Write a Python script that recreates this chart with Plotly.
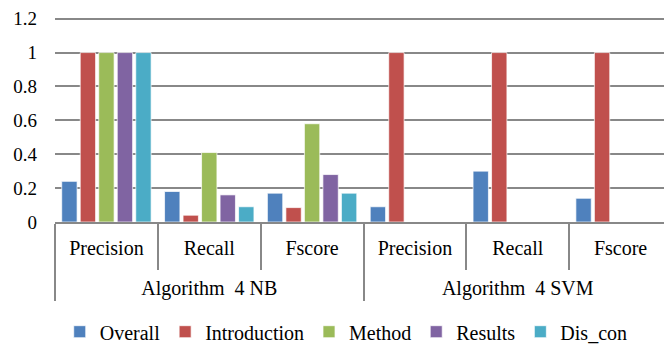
import plotly.graph_objects as go

groups = ["Algorithm  4 NB"] * 3 + ["Algorithm  4 SVM"] * 3
metrics = ["Precision", "Recall", "Fscore"] * 2

series = ["Overall", "Introduction", "Method", "Results", "Dis_con"]
overall = [0.24, 0.18, 0.17, 0.09, 0.30, 0.14]
introduction = [1.0, 0.04, 0.085, 1.0, 1.0, 1.0]
method = [1.0, 0.41, 0.58, 0, 0, 0]
results = [1.0, 0.16, 0.28, 0, 0, 0]
dis_con = [1.0, 0.09, 0.17, 0, 0, 0]
colors = ["#4F81BD", "#C0504D", "#9BBB59", "#8064A2", "#4BACC6"]
y_ticks = [0, 0.2, 0.4, 0.6, 0.8, 1.0, 1.2]
y_tick_labels = ["0", "0.2", "0.4", "0.6", "0.8", "1", "1.2"]

values = [overall, introduction, method, results, dis_con]

# display labels: a small trailing blank line pushes the outer label row down
metric_labels = [m + "<br><span style='font-size:4px'> </span>" for m in metrics]

fig = go.Figure()
for name, vals, col in zip(series, values, colors):
    fig.add_trace(go.Bar(
        x=[groups, metric_labels], y=vals, name=name,
        marker=dict(color=col, line=dict(color="rgba(255,255,255,0.7)", width=1)),
    ))

FAM = "Times New Roman, Liberation Serif, serif"
font = dict(family=FAM, size=20, color="#000000")
yfont = dict(family=FAM, size=19, color="#000000")

# page body has an 8px margin, so the figure is drawn 8px in from the top-left
fig.update_layout(
    template="none",
    width=664, height=338,
    margin=dict(l=47, r=0, t=9, b=124, autoexpand=False),
    paper_bgcolor="white", plot_bgcolor="white",
    barmode="group", bargap=0.1, bargroupgap=0.17,
    font=font,
    showlegend=True,
    legend=dict(orientation="h", x=0.472, xanchor="center", y=-0.44, yanchor="top",
                font=dict(family=FAM, size=20, color="#000000"),
                itemwidth=30, tracegroupgap=0),
    yaxis=dict(
        range=[0, 1.21], tickmode="array", tickvals=y_ticks, ticktext=y_tick_labels,
        automargin=False, ticklabeloverflow="allow",
        showgrid=True, gridcolor="#888888", gridwidth=1.5,
        zeroline=False, showline=False, ticks="",
        tickfont=yfont, ticklabelstandoff=17,
    ),
    xaxis=dict(
        type="multicategory", automargin=False, showgrid=False,
        showline=True, linecolor="#888888", linewidth=1.5,
        ticks="outside", ticklen=46, tickcolor="#888888", tickwidth=1.5,
        showdividers=True, dividercolor="#888888", dividerwidth=1.5,
        tickfont=font, ticklabelstandoff=7,
    ),
)

fig.write_html("out.html")
